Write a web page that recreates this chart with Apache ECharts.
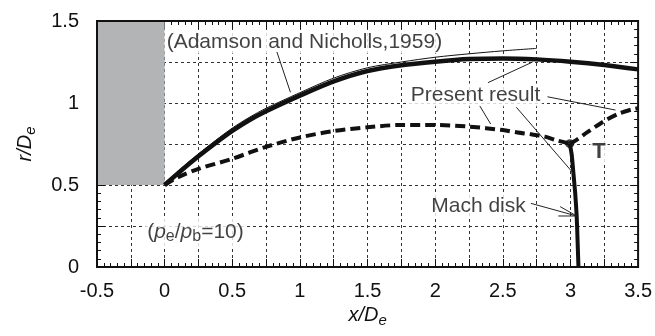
<!DOCTYPE html>
<html><head><meta charset="utf-8">
<script src="https://cdn.jsdelivr.net/npm/echarts@6/dist/echarts.min.js"></script>
<style>html,body{margin:0;padding:0;background:#fff}#c{width:655px;height:336px}</style>
</head><body><div id="c"></div>
<script>
// ---- data ----
const jetX = [0, 0.125, 0.25, 0.375, 0.5, 0.625, 0.75, 1.0, 1.25, 1.5, 1.75, 2.0, 2.25, 2.5, 2.75, 3.0, 3.25, 3.5];
const jetR = [0.5, 0.59, 0.675, 0.755, 0.83, 0.895, 0.95, 1.045, 1.132, 1.195, 1.23, 1.252, 1.268, 1.272, 1.266, 1.252, 1.232, 1.205];
const adamX = [0, 0.125, 0.25, 0.375, 0.5, 0.625, 0.75, 1.0, 1.25, 1.5, 1.75, 2.0, 2.25, 2.5, 2.75];
const adamR = [0.5, 0.603, 0.69, 0.771, 0.847, 0.912, 0.968, 1.063, 1.152, 1.215, 1.25, 1.279, 1.30, 1.318, 1.333];
const shockX = [0, 0.1, 0.25, 0.5, 0.75, 1.0, 1.25, 1.5, 1.75, 2.0, 2.25, 2.5, 2.61, 2.71, 2.81, 2.9, 2.995];
const shockR = [0.5, 0.548, 0.598, 0.66, 0.733, 0.79, 0.829, 0.852, 0.866, 0.866, 0.856, 0.835, 0.82, 0.809, 0.795, 0.772, 0.752];
const reflX = [2.995, 3.04, 3.125, 3.23, 3.35, 3.46, 3.5];
const reflR = [0.752, 0.772, 0.822, 0.88, 0.933, 0.962, 0.968];
const machX = [2.995, 3.01, 3.022, 3.035, 3.046, 3.053, 3.059];
const machR = [0.752, 0.68, 0.57, 0.45, 0.31, 0.15, 0.0];
const triplePoint = [2.995, 0.752];
const nozzleBox = [[-0.5, 0.5], [0, 1.5]];
// annotations
const noteText = ['(Adamson and Nicholls,1959)', 'Present result', 'Mach disk', '{n|(}{p|p}{sub|e}{n|/}{p|p}{sub|b}{n|=10)}', 'T'];
const noteX = [0.0, 2.298, 2.32, 0.228, 3.21];
const noteR = [1.372, 1.049, 0.372, 0.213, 0.701];
const noteAlign = ['left', 'center', 'center', 'center', 'center'];
const leaders = [
  [[0.83, 1.311], [0.93, 1.065]],
  [[2.39, 1.124], [2.72, 1.25]],
  [[2.33, 0.982], [2.41, 0.872]],
  [[2.6, 0.974], [3.022, 0.571]],
  [[2.83, 1.038], [3.333, 0.957]],
  [[2.708, 0.388], [3.046, 0.311]],
  [[2.924, 0.368], [3.046, 0.311], [2.91, 0.311]]
];

const FONT = '"Liberation Sans", Arial, Helvetica, sans-serif';
const INK = '#111';
const zip = (a, b) => a.map((v, i) => [v, b[i]]);
const halfOnly = v => { const k = v * 2; return Math.abs(k - Math.round(k)) < 1e-6 ? String(Math.round(v * 100) / 100) : ''; };

function axisCommon(min, max, pos, withLabels, withSplit) {
  return {
    type: 'value', min: min, max: max, interval: 0.25, position: pos,
    axisLine: { show: false, onZero: false },
    axisTick: { show: true, inside: true, length: 8, lineStyle: { color: INK, width: 1 } },
    minorTick: { show: true, splitNumber: 5, length: 4, lineStyle: { color: INK, width: 1 } },
    splitLine: { show: withSplit, lineStyle: { color: '#333', width: 1, type: [3, 3] } },
    minorSplitLine: { show: false },
    axisLabel: { show: withLabels, formatter: halfOnly, fontSize: 20, color: INK, fontFamily: FONT }
  };
}
const nameRich = {
  i: { fontStyle: 'italic', fontSize: 20, fontFamily: FONT, color: INK },
  s: { fontStyle: 'italic', fontSize: 15, fontFamily: FONT, color: INK, padding: [10, 0, 0, 0] }
};

const xb = axisCommon(-0.5, 3.5, 'bottom', true, true);
xb.axisLabel.margin = 14;
xb.name = '{i|x/D}{s|e}'; xb.nameLocation = 'middle'; xb.nameGap = 35;
xb.nameTextStyle = { rich: nameRich };
const xt = axisCommon(-0.5, 3.5, 'top', false, false);
const yl = axisCommon(0, 1.5, 'left', true, true);
yl.axisLabel.margin = 18;
yl.name = '{i|r/D}{s|e}'; yl.nameLocation = 'middle'; yl.nameGap = 59;
yl.nameTextStyle = { rich: nameRich };
const yr = axisCommon(0, 1.5, 'right', false, false);

const lineBase = { type: 'line', showSymbol: false, symbol: 'none', silent: true, xAxisIndex: 0, yAxisIndex: 0 };

const option = {
  animation: false,
  backgroundColor: '#fff',
  grid: { left: 97, top: 21, right: 14, bottom: 69, show: true, borderColor: INK, borderWidth: 2, backgroundColor: 'transparent', z: 10 },
  xAxis: [xb, xt],
  yAxis: [yl, yr],
  series: [
    Object.assign({}, lineBase, {
      name: 'jet', data: zip(jetX, jetR), smooth: 0.3, z: 3,
      lineStyle: { color: INK, width: 4.5 },
      markArea: { silent: true, itemStyle: { color: '#b3b4b6', opacity: 1 }, data: [[{ coord: nozzleBox[0] }, { coord: nozzleBox[1] }]] }
    }),
    Object.assign({}, lineBase, { name: 'adamson', data: zip(adamX, adamR), smooth: 0.3, z: 4, lineStyle: { color: INK, width: 1 } }),
    Object.assign({}, lineBase, { name: 'shock', data: zip(shockX, shockR), smooth: 0.3, z: 3, lineStyle: { color: INK, width: 4, type: [10, 5] } }),
    Object.assign({}, lineBase, { name: 'reflected', data: zip(reflX, reflR), smooth: 0.3, z: 3, lineStyle: { color: INK, width: 4, type: [10, 5] } }),
    Object.assign({}, lineBase, { name: 'mach', data: zip(machX, machR), smooth: 0.2, z: 3, lineStyle: { color: INK, width: 4 } }),
    { type: 'scatter', silent: true, data: [triplePoint], symbol: 'circle', symbolSize: 9, itemStyle: { color: INK }, z: 5 },
    { type: 'lines', coordinateSystem: 'cartesian2d', polyline: true, silent: true, z: 6,
      lineStyle: { color: '#222', width: 1, opacity: 1, curveness: 0 },
      data: leaders.map(s => ({ coords: s })) },
    { type: 'scatter', silent: true, z: 5, symbolSize: 0,
      data: noteText.map((t, i) => ({
        value: [noteX[i], noteR[i]],
        label: {
          show: true, position: 'inside', formatter: t, align: noteAlign[i], verticalAlign: 'middle',
          fontSize: i === 4 ? 22 : 21, fontWeight: i === 4 ? 'bold' : 'normal', fontFamily: FONT, color: INK,
          backgroundColor: '#fff', padding: [1, 2],
          rich: {
            n: { fontSize: 21, fontFamily: FONT, color: INK },
            p: { fontSize: 21, fontStyle: 'italic', fontFamily: FONT, color: INK },
            sub: { fontSize: 16, fontFamily: FONT, color: INK, padding: [10, 0, 0, 0] }
          }
        }
      })) }
  ]
};
const chart = echarts.init(document.getElementById('c'), null, { renderer: 'canvas' });
chart.setOption(option);
</script></body></html>
